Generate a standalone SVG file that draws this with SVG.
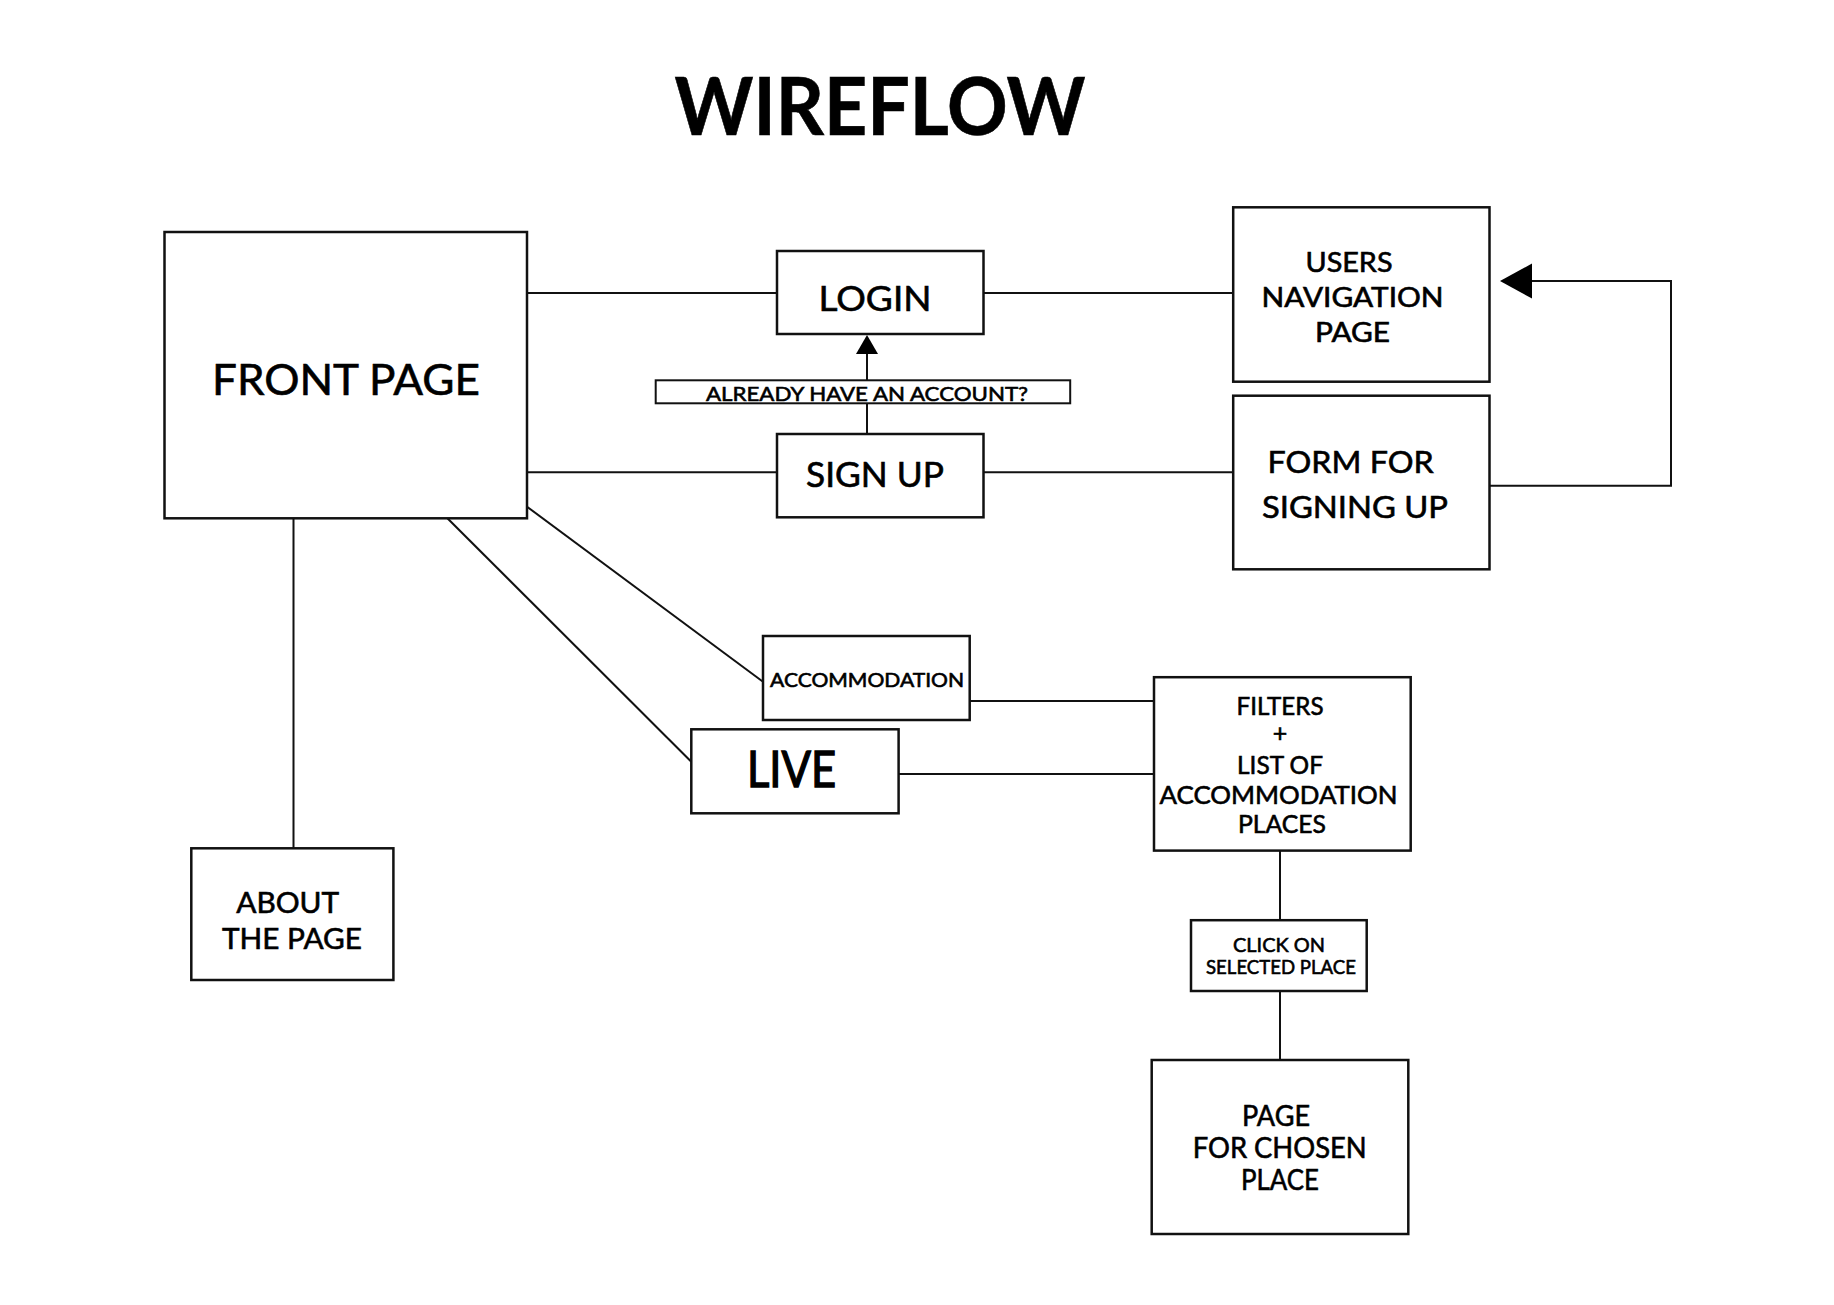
<svg xmlns="http://www.w3.org/2000/svg" width="1834" height="1305" viewBox="0 0 1834 1305">
<style>
.box{fill:#fff;stroke:#111;stroke-width:2.5}
.lbl{fill:#fff;stroke:#111;stroke-width:2}
.ln{fill:none;stroke:#111;stroke-width:2}
.ah{fill:#000;stroke:none}
text{font-family:Lato,"Liberation Sans",sans-serif;fill:#000;stroke:#000;stroke-width:0.6;text-anchor:middle}
.heavy{stroke-width:1.4}
</style>
<rect width="1834" height="1305" fill="#fff"/>
<text id="title" x="880" y="135" font-size="80" font-weight="bold" textLength="411" lengthAdjust="spacingAndGlyphs" stroke-width="0">WIREFLOW</text>
<g id="connectors">
<line class="ln" x1="527" y1="293" x2="777" y2="293"/>
<line class="ln" x1="983.5" y1="293" x2="1233" y2="293"/>
<line class="ln" x1="527" y1="472.3" x2="777" y2="472.3"/>
<line class="ln" x1="983.5" y1="472.3" x2="1233" y2="472.3"/>
<line class="ln" x1="867" y1="434" x2="867" y2="352"/>
<polygon class="ah" points="867,335 856,354 878,354"/>
<rect class="lbl" x="655.7" y="380.3" width="414.5" height="23"/>
<text x="867" y="400.5" font-size="20" textLength="322" lengthAdjust="spacingAndGlyphs" stroke-width="0.3">ALREADY HAVE AN ACCOUNT?</text>
<path class="ln" d="M1489.5,485.7 H1671 V281 H1530"/>
<polygon class="ah" points="1500,281 1532,263.5 1532,298.5"/>
<line class="ln" x1="293.5" y1="518.3" x2="293.5" y2="848.3"/>
<line class="ln" x1="527" y1="506.7" x2="763" y2="681.7"/>
<line class="ln" x1="447.4" y1="518.3" x2="691.3" y2="761.7"/>
<line class="ln" x1="969.7" y1="701" x2="1154" y2="701"/>
<line class="ln" x1="898.6" y1="774" x2="1154" y2="774"/>
<line class="ln" x1="1280" y1="850.6" x2="1280" y2="920.2"/>
<line class="ln" x1="1280" y1="991" x2="1280" y2="1060"/>
</g>
<g id="front-page">
<rect class="box" x="164.5" y="232" width="362.5" height="286.3"/>
<text x="346" y="395" font-size="43" textLength="268" lengthAdjust="spacingAndGlyphs">FRONT PAGE</text>
</g>
<g id="login">
<rect class="box" x="777" y="251" width="206.5" height="83"/>
<text x="875" y="310.7" font-size="35" textLength="113" lengthAdjust="spacingAndGlyphs">LOGIN</text>
</g>
<g id="sign-up">
<rect class="box" x="777" y="434" width="206.5" height="83.3"/>
<text x="875" y="487.3" font-size="34" textLength="138" lengthAdjust="spacingAndGlyphs">SIGN UP</text>
</g>
<g id="users-navigation">
<rect class="box" x="1233.2" y="207.3" width="256.3" height="174.4"/>
<text x="1349" y="271.7" font-size="26" textLength="87" lengthAdjust="spacingAndGlyphs">USERS</text>
<text x="1352.6" y="307.3" font-size="26" textLength="182" lengthAdjust="spacingAndGlyphs">NAVIGATION</text>
<text x="1352.5" y="341.7" font-size="26" textLength="75" lengthAdjust="spacingAndGlyphs">PAGE</text>
</g>
<g id="form-signing-up">
<rect class="box" x="1233.2" y="395.7" width="256.3" height="173.6"/>
<text x="1350.6" y="472.7" font-size="30" textLength="166" lengthAdjust="spacingAndGlyphs">FORM FOR</text>
<text x="1355" y="518.3" font-size="30" textLength="186" lengthAdjust="spacingAndGlyphs">SIGNING UP</text>
</g>
<g id="accommodation">
<rect class="box" x="763" y="636" width="206.7" height="84"/>
<text x="867" y="686.7" font-size="19.5" textLength="194" lengthAdjust="spacingAndGlyphs" stroke-width="0.3">ACCOMMODATION</text>
</g>
<g id="live">
<rect class="box" x="691.3" y="729.3" width="207.3" height="84"/>
<text class="heavy" x="791.5" y="787.3" font-size="50" textLength="89" lengthAdjust="spacingAndGlyphs">LIVE</text>
</g>
<g id="about">
<rect class="box" x="191.3" y="848.3" width="202.1" height="131.7"/>
<text x="287.7" y="913.3" font-size="29" textLength="103" lengthAdjust="spacingAndGlyphs">ABOUT</text>
<text x="292" y="949.3" font-size="29" textLength="140" lengthAdjust="spacingAndGlyphs">THE PAGE</text>
</g>
<g id="filters-list">
<rect class="box" x="1154" y="677.2" width="256.7" height="173.4"/>
<text x="1280" y="714.7" font-size="25" textLength="87" lengthAdjust="spacingAndGlyphs">FILTERS</text>
<text x="1280" y="742" font-size="25">+</text>
<text x="1280" y="774" font-size="25" textLength="86" lengthAdjust="spacingAndGlyphs">LIST OF</text>
<text x="1278.5" y="803.5" font-size="25" textLength="238" lengthAdjust="spacingAndGlyphs">ACCOMMODATION</text>
<text x="1282" y="833.4" font-size="25" textLength="88" lengthAdjust="spacingAndGlyphs">PLACES</text>
</g>
<g id="click-on-selected">
<rect class="box" x="1191" y="920.2" width="175.7" height="70.8"/>
<text x="1279" y="951.6" font-size="20" textLength="92" lengthAdjust="spacingAndGlyphs" stroke-width="0.3">CLICK ON</text>
<text x="1281" y="973.8" font-size="20" textLength="150" lengthAdjust="spacingAndGlyphs" stroke-width="0.3">SELECTED PLACE</text>
</g>
<g id="page-chosen-place">
<rect class="box" x="1151.7" y="1060" width="256.6" height="174"/>
<text x="1276" y="1126" font-size="28" textLength="68" lengthAdjust="spacingAndGlyphs">PAGE</text>
<text x="1279.7" y="1157.5" font-size="28" textLength="174" lengthAdjust="spacingAndGlyphs">FOR CHOSEN</text>
<text x="1280" y="1190" font-size="28" textLength="78" lengthAdjust="spacingAndGlyphs">PLACE</text>
</g>
</svg>
